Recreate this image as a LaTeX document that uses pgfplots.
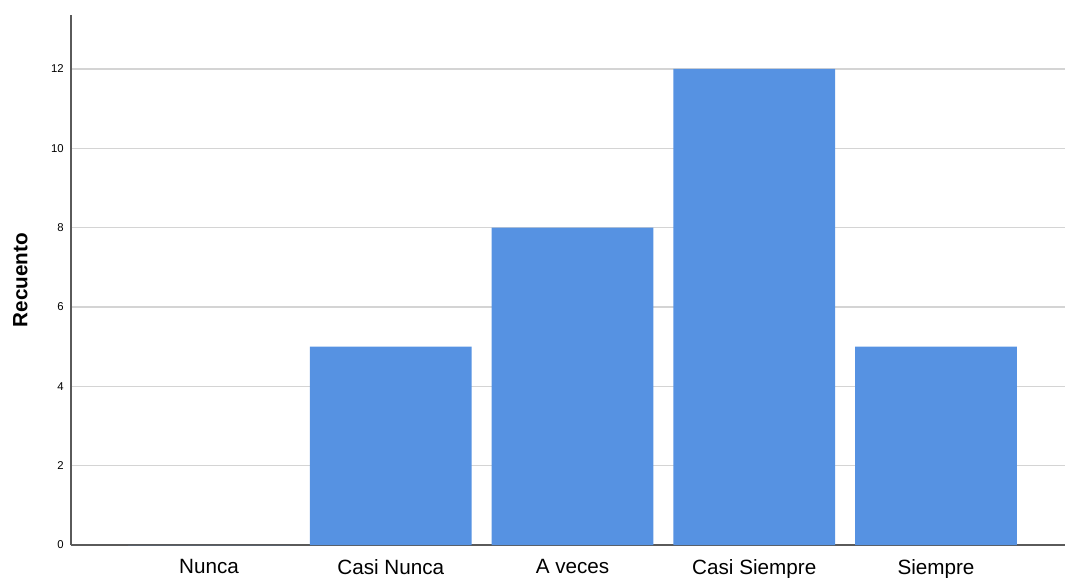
\documentclass[border=0pt]{standalone}
\usepackage{fontspec}
\setmainfont{Liberation Sans}
\usepackage{pgfplots}
\pgfplotsset{compat=1.18}
\definecolor{barblue}{HTML}{5692E2}
\definecolor{gridgray}{HTML}{D4D4D4}
\definecolor{axisgray}{HTML}{5A5A5A}
\begin{document}
\begin{tikzpicture}
\begin{axis}[
  scale only axis,
  width=745.5pt, height=397.5pt,
  xmin=-0.76, xmax=4.71,
  ymin=0, ymax=13.36,
  axis lines*=left,
  axis line style={axisgray, line width=1pt},
  separate axis lines,
  y axis line style={-},
  x axis line style={-},
  ybar, bar width=0.89,
  xtick={0,1,2,3,4},
  xticklabels={Nunca, Casi Nunca, A veces, Casi Siempre, Siempre},
  ytick={0,2,4,6,8,10,12},
  major tick length=0pt,
  ymajorgrids,
  grid style={gridgray, line width=1pt},
  /pgf/number format/assume math mode=true,
  yticklabel style={font=\fontsize{8.5}{10}\selectfont, xshift=-2pt},
  xticklabel style={font=\fontsize{15.5}{18}\selectfont, yshift=-7pt},
  ylabel={\textbf{Recuento}},
  every axis y label/.style={at={(rel axis cs:0,0.5)}, xshift=-38pt, rotate=90, anchor=center, font=\fontsize{15.5}{18}\selectfont},
]
\addplot[fill=barblue, draw=none] coordinates {(0,0) (1,5) (2,8) (3,12) (4,5)};
\end{axis}
\pgfresetboundingbox
\path (current axis.south west) ++(-53.25pt,-24.75pt) coordinate (bbA);
\path (current axis.north east) ++(1.5pt,11.25pt) coordinate (bbB);
\path (bbA) rectangle (bbB);
\end{tikzpicture}
\end{document}
